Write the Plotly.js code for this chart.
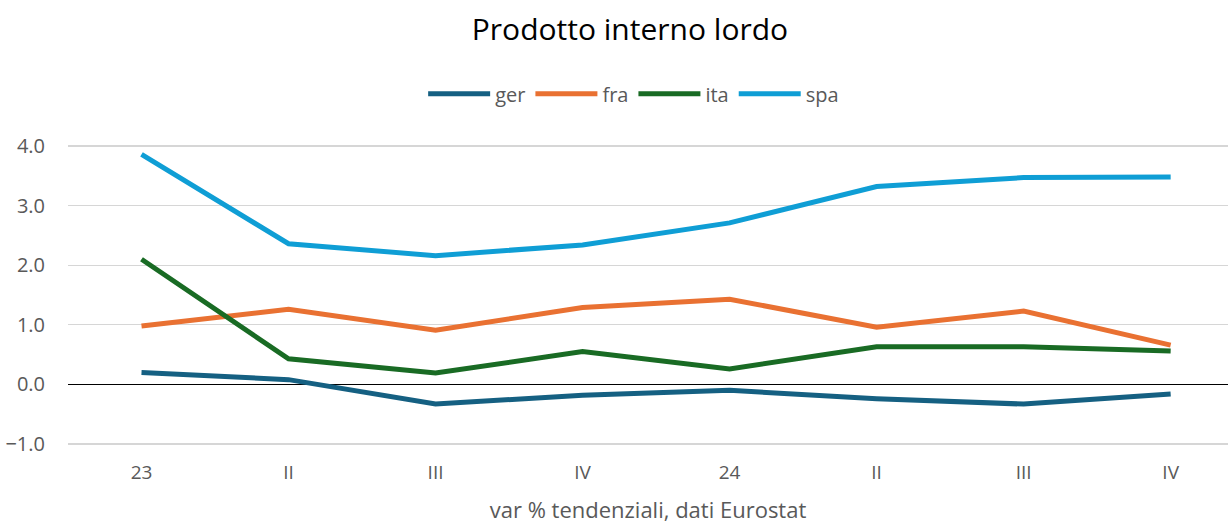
<!DOCTYPE html>
<html>
<head>
<meta charset="utf-8">
<script src="https://cdn.plot.ly/plotly-3.0.1.min.js"></script>
<style>html,body{margin:0;padding:0;background:#fff;}#chart{width:1228px;height:524px;}</style>
</head>
<body>
<div id="chart"></div>
<script>
const categories = ["23", "II", "III", "IV", "24", "II", "III", "IV"];
const ger = [0.20, 0.08, -0.33, -0.18, -0.10, -0.24, -0.33, -0.16];
const fra = [0.98, 1.26, 0.91, 1.29, 1.43, 0.96, 1.23, 0.66];
const ita = [2.10, 0.43, 0.19, 0.55, 0.26, 0.63, 0.63, 0.56];
const spa = [3.86, 2.36, 2.16, 2.34, 2.71, 3.32, 3.47, 3.48];
const seriesNames = ["ger", "fra", "ita", "spa"];
const colors = ["#156082", "#E97132", "#196B24", "#0F9ED5"];

const idx = categories.map((c, i) => i);
const allSeries = [ger, fra, ita, spa];
const font = "'Open Sans', Roboto, sans-serif";

const traces = allSeries.map((vals, k) => ({
  x: idx,
  y: vals,
  type: "scatter",
  mode: "lines",
  name: seriesNames[k],
  line: {color: colors[k], width: 5},
  hoverinfo: "skip"
}));

const layout = {
  width: 1228,
  height: 524,
  paper_bgcolor: "#ffffff",
  plot_bgcolor: "#ffffff",
  margin: {l: 68, r: 0, t: 143, b: 77, pad: 0},
  title: {
    text: "Prodotto interno lordo",
    font: {family: font, size: 30, color: "#000000"},
    x: 0.513, xref: "container", xanchor: "center",
    y: 0.943, yref: "container", yanchor: "middle"
  },
  showlegend: true,
  legend: {
    orientation: "h",
    x: 0.516, xref: "container", xanchor: "center",
    y: 0.821, yref: "container", yanchor: "middle",
    font: {family: font, size: 20, color: "#595959"},
    itemwidth: 62,
    tracegroupgap: 0,
    bgcolor: "rgba(0,0,0,0)"
  },
  xaxis: {
    range: [-0.5, 7.39],
    tickvals: idx,
    ticktext: categories,
    showgrid: false,
    zeroline: false,
    showline: false,
    ticks: "",
    tickfont: {family: font, size: 19, color: "#595959"},
    ticklabelstandoff: 12,
    title: {
      text: "var % tendenziali, dati Eurostat",
      font: {family: font, size: 22, color: "#595959"},
      standoff: 24
    },
    fixedrange: true
  },
  yaxis: {
    range: [-1.05, 4.05],
    tickvals: [-1, 0, 1, 2, 3, 4],
    tickformat: ".1f",
    showgrid: true,
    gridcolor: "#d6d6d6",
    gridwidth: 1.3,
    zeroline: true,
    zerolinecolor: "#000000",
    zerolinewidth: 1.5,
    showline: false,
    ticks: "",
    tickfont: {family: font, size: 20, color: "#595959"},
    ticklabelstandoff: 22,
    fixedrange: true
  }
};

Plotly.newPlot("chart", traces, layout, {displayModeBar: false, staticPlot: true});
</script>
</body>
</html>
